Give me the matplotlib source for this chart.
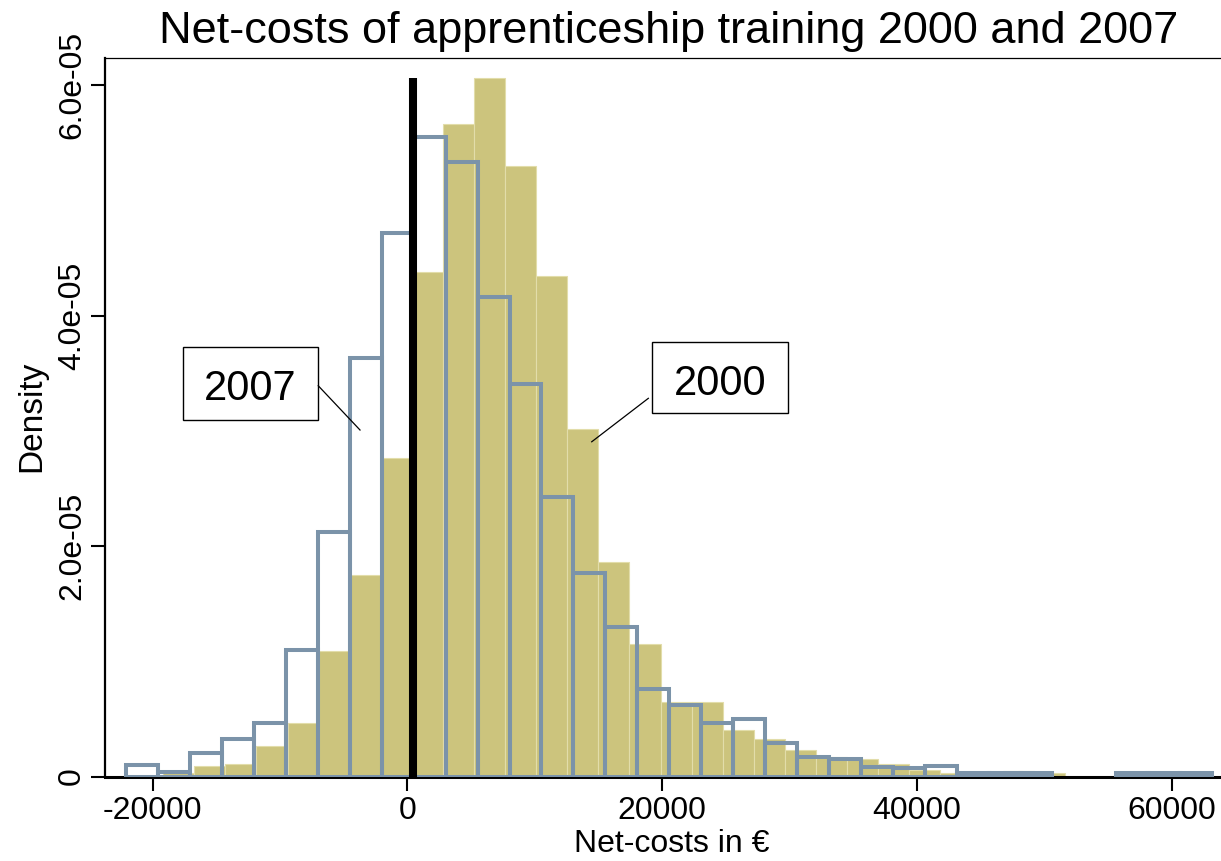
import numpy as np
import matplotlib.pyplot as plt
from matplotlib.patches import Rectangle

plt.rcParams['font.family'] = ['Liberation Sans', 'DejaVu Sans']

# 2000: filled histogram (density per bin)
START_2000 = -19160
WIDTH_2000 = 2440
density_2000 = np.array([
    0.028, 0.091, 0.108, 0.267, 0.467, 1.089, 1.746, 2.764, 4.38, 5.66,
    6.06, 5.30, 4.34, 3.02, 1.864, 1.147, 0.644, 0.644, 0.403, 0.325,
    0.230, 0.167, 0.149, 0.106, 0.056, 0.028, 0.028, 0.048, 0.028,
]) * 1e-5

# 2007: outlined histogram (density per bin)
START_2007 = -22060
WIDTH_2007 = 2507
density_2007 = np.array([
    0.100, 0.042, 0.201, 0.323, 0.462, 1.098, 2.119, 3.63, 4.716, 5.55,
    5.335, 4.158, 3.406, 2.43, 1.763, 1.30, 0.759, 0.62, 0.467, 0.499,
    0.288, 0.172, 0.149, 0.085, 0.071, 0.091, 0.028, 0.028, 0.028, 0.0,
    0.0, 0.028, 0.028, 0.028,
]) * 1e-5

ZERO_LINE_X = 470

x_ticks = [-20000, 0, 20000, 40000, 60000]
x_labels = ['-20000', '0', '20000', '40000', '60000']
y_ticks = [0, 2e-5, 4e-5, 6e-5]
y_labels = ['0', '2.0e-05', '4.0e-05', '6.0e-05']

YELLOW = '#CCC47D'
BLUE = '#7B93A9'

fig = plt.figure(figsize=(12.21, 8.61), dpi=100)
ax = fig.add_axes([0.0860, 0.0981, 0.9140, 0.8341])

left_2000 = START_2000 + WIDTH_2000 * np.arange(len(density_2000))
ax.bar(left_2000, density_2000, width=WIDTH_2000, align='edge',
       color=YELLOW, edgecolor='#E2DDAA', linewidth=0.8, zorder=2)

left_2007 = START_2007 + WIDTH_2007 * np.arange(len(density_2007))
keep = density_2007 > 0
ax.bar(left_2007[keep], density_2007[keep], width=WIDTH_2007, align='edge',
       fill=False, edgecolor=BLUE, linewidth=2.9, zorder=3)

ax.vlines(ZERO_LINE_X, 0, density_2000.max(), color='black', lw=5.8, zorder=4)

ax.set_xlim(-23730, 63870)
ax.set_ylim(0, 6.232e-5)

ax.spines['right'].set_visible(False)
ax.spines['top'].set_linewidth(0.9)
ax.spines['left'].set_linewidth(1.6)
ax.spines['bottom'].set_linewidth(2.2)

ax.set_xticks(x_ticks, x_labels, fontsize=23)
ax.set_yticks(y_ticks, y_labels, fontsize=23, rotation=90, va='center')
ax.tick_params(axis='both', direction='out', length=10, width=1.5)
ax.tick_params(axis='x', pad=4)
ax.tick_params(axis='y', pad=3)

fig.text(669 / 1221, (861 - 43.3) / 861,
         'Net-costs of apprenticeship training 2000 and 2007',
         fontsize=32.5, ha='center', va='baseline')
fig.text(31.5 / 1221, 0.5 + (861 / 2 - 416) / 861, 'Density',
         fontsize=24, rotation=90, ha='center', va='center')
fig.text(672 / 1221, (861 - 844.4) / 861, 'Net-costs in €',
         fontsize=23, ha='center', va='center')

# labelled boxes with leader lines
ax.add_patch(Rectangle((-17590, 3.0938e-5), 10600, 0.6358e-5,
                       facecolor='white', edgecolor='black', lw=1.0, zorder=5))
ax.text(-12350, 3.267e-5, '2007', fontsize=30, ha='center', va='baseline',
        zorder=6)
ax.plot([-6990, -3713], [3.391e-5, 3.007e-5], color='black', lw=0.9, zorder=5)

ax.add_patch(Rectangle((19185, 3.1517e-5), 10723, 0.6213e-5,
                       facecolor='white', edgecolor='black', lw=1.0, zorder=5))
ax.text(24550, 3.310e-5, '2000', fontsize=30, ha='center', va='baseline',
        zorder=6)
ax.plot([18919, 14475], [3.282e-5, 2.905e-5], color='black', lw=0.9, zorder=5)

fig.savefig('out.png', dpi=100)
